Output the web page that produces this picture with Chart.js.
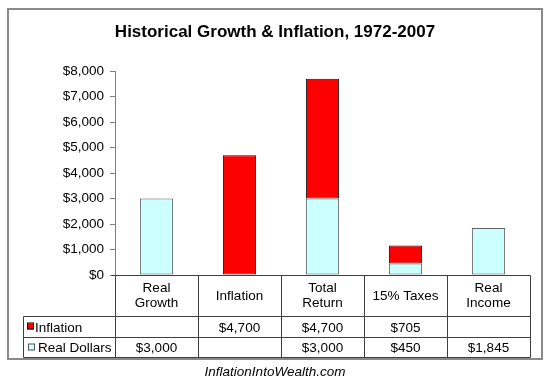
<!DOCTYPE html>
<html>
<head>
<meta charset="utf-8">
<script src="https://cdn.jsdelivr.net/npm/chart.js@4"></script>
<style>
  html, body { margin: 0; padding: 0; background: #fff; }
  canvas { display: block; }
</style>
</head>
<body>
<canvas id="growthChart" width="550" height="385"></canvas>
<script>
// Data
const categories = [['Real', 'Growth'], ['Inflation'], ['Total', 'Return'], ['15% Taxes'], ['Real', 'Income']];
const inflation = [null, 4700, 4700, 705, null];
const realDollars = [3000, null, 3000, 450, 1845];
const yTicks = [0, 1000, 2000, 3000, 4000, 5000, 6000, 7000, 8000];

const FONT = '"Liberation Sans", Arial, sans-serif';
const money = v => '$' + v.toLocaleString('en-US');

// draws the frame, title, data table and footer
const tablePlugin = {
  id: 'tablePlugin',
  afterDraw(chart) {
    const ctx = chart.ctx;
    const area = chart.chartArea;
    const x = chart.scales.x;
    const n = categories.length;
    const half = (x.getPixelForValue(1) - x.getPixelForValue(0)) / 2;
    const edges = [];
    for (let i = 0; i < n; i++) edges.push(Math.round(x.getPixelForValue(i) - half) + 0.5);
    edges.push(Math.round(x.getPixelForValue(n - 1) + half) + 0.5);

    const top = Math.round(area.bottom) + 0.5;
    const r1 = top + 41, r2 = r1 + 21, bottom = r2 + 20;
    const legLeft = 23.5;

    ctx.save();
    // outer frame
    ctx.strokeStyle = '#8a8a8a';
    ctx.lineWidth = 2;
    ctx.strokeRect(8, 9, 534, 350);

    // title
    ctx.fillStyle = '#000';
    ctx.font = 'bold 17px ' + FONT;
    ctx.textAlign = 'center';
    ctx.textBaseline = 'middle';
    ctx.fillText('Historical Growth & Inflation, 1972-2007', 275, 32);

    // table grid
    ctx.lineWidth = 1;
    ctx.strokeStyle = '#404040';
    ctx.beginPath();
    ctx.moveTo(edges[0] - 4, top); ctx.lineTo(edges[n], top);
    [r1, r2, bottom].forEach(y => { ctx.moveTo(legLeft, y); ctx.lineTo(edges[n], y); });
    edges.forEach(e => { ctx.moveTo(e, top); ctx.lineTo(e, bottom); });
    ctx.moveTo(legLeft, r1); ctx.lineTo(legLeft, bottom);
    ctx.stroke();

    // header labels and values
    ctx.font = '13.5px ' + FONT;
    ctx.fillStyle = '#000';
    categories.forEach((lab, i) => {
      const cx = x.getPixelForValue(i);
      if (lab.length === 1) {
        ctx.fillText(lab[0], cx, (top + r1) / 2);
      } else {
        ctx.fillText(lab[0], cx, top + 13);
        ctx.fillText(lab[1], cx, top + 28);
      }
      if (inflation[i] != null) ctx.fillText(money(inflation[i]), cx, (r1 + r2) / 2 + 1);
      if (realDollars[i] != null) ctx.fillText(money(realDollars[i]), cx, (r2 + bottom) / 2 + 1);
    });

    // legend keys
    ctx.textAlign = 'left';
    ctx.fillStyle = '#ff0000';
    ctx.fillRect(27, r1 + 7, 6, 6);
    ctx.strokeStyle = '#000';
    ctx.strokeRect(27.5, r1 + 6.5, 6, 6);
    ctx.fillStyle = '#000';
    ctx.fillText('Inflation', 35, (r1 + r2) / 2 + 1);
    ctx.fillStyle = '#ccffff';
    ctx.fillRect(28, r2 + 7, 6, 6);
    ctx.strokeStyle = '#555';
    ctx.strokeRect(28.5, r2 + 6.5, 6, 6);
    ctx.fillStyle = '#000';
    ctx.fillText('Real Dollars', 38, (r2 + bottom) / 2 + 1);

    // footer
    ctx.textAlign = 'center';
    ctx.font = 'italic 13.5px ' + FONT;
    ctx.fillText('InflationIntoWealth.com', 275, 372);
    ctx.restore();
  }
};

new Chart(document.getElementById('growthChart'), {
  type: 'bar',
  data: {
    labels: categories,
    datasets: [{
      label: 'Real Dollars',
      data: realDollars,
      backgroundColor: '#ccffff',
      borderColor: '#606060',
      borderWidth: 1,
      borderSkipped: false
    }, {
      label: 'Inflation',
      data: inflation,
      backgroundColor: '#ff0000',
      borderColor: '#101010',
      borderWidth: 1,
      borderSkipped: false
    }]
  },
  options: {
    responsive: false,
    animation: false,
    barPercentage: 0.4,
    categoryPercentage: 1,
    layout: { padding: { top: 71, right: 20, bottom: 110, left: 0 } },
    plugins: {
      legend: { display: false },
      title: { display: false },
      tooltip: { enabled: false }
    },
    scales: {
      x: {
        stacked: true,
        display: false
      },
      y: {
        stacked: true,
        min: yTicks[0],
        max: yTicks[yTicks.length - 1],
        afterFit(scale) { scale.width = 115; },
        afterBuildTicks(scale) { scale.ticks = yTicks.map(v => ({ value: v })); },
        border: { color: '#808080' },
        grid: { drawOnChartArea: false, tickLength: 5, color: '#808080' },
        ticks: {
          color: '#000',
          padding: 6,
          font: { family: FONT, size: 13.5 },
          callback: v => money(v)
        }
      }
    }
  },
  plugins: [tablePlugin]
});
</script>
</body>
</html>
